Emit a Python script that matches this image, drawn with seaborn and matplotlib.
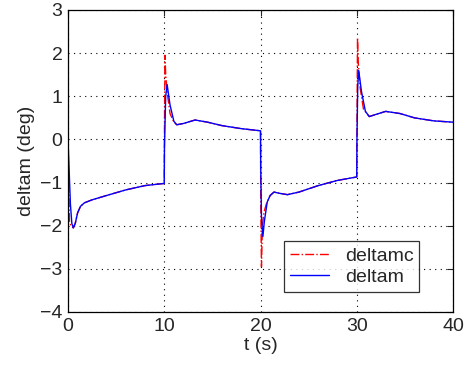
import matplotlib
matplotlib.use("Agg")
import matplotlib.pyplot as plt
import seaborn as sb
import numpy as np

# commanded elevator deflection (deltamc)
t_cmd = [0, 0.08, 0.15, 0.3, 0.55, 0.75, 1.0, 1.3, 1.7, 2.5, 4, 6, 8, 10,
         10.03, 10.08, 10.15, 10.3, 10.6, 11.0, 11.3, 12, 13.2, 14.5, 16, 18, 20,
         20.03, 20.1, 20.2, 20.35, 20.6, 21.0, 21.4, 22.0, 22.8, 24, 26, 28, 30,
         30.03, 30.08, 30.15, 30.35, 30.7, 31.3, 32, 33, 34.5, 36, 38, 40]
deltamc = [0.0, -1.0, -1.9, -2.0, -2.05, -1.95, -1.7, -1.55, -1.47, -1.4, -1.3, -1.17, -1.07, -1.02,
           0.5, 1.95, 1.5, 1.1, 0.6, 0.4, 0.34, 0.37, 0.45, 0.4, 0.32, 0.25, 0.2,
           -1.5, -2.95, -2.0, -1.7, -1.5, -1.3, -1.22, -1.25, -1.28, -1.22, -1.07, -0.95, -0.87,
           0.5, 2.35, 1.8, 1.2, 0.7, 0.53, 0.58, 0.65, 0.6, 0.5, 0.43, 0.4]

# actual elevator deflection (deltam)
t_act = [0, 0.1, 0.25, 0.4, 0.55, 0.75, 1.0, 1.3, 1.7, 2.5, 4, 6, 8, 10,
         10.02, 10.15, 10.3, 10.6, 11.0, 11.3, 12, 13.2, 14.5, 16, 18, 20,
         20.02, 20.1, 20.25, 20.4, 20.7, 21.0, 21.4, 22.0, 22.8, 24, 26, 28, 30,
         30.02, 30.1, 30.2, 30.5, 30.9, 31.3, 32, 33, 34.5, 36, 38, 40]
deltam = [0.0, -0.6, -1.5, -1.95, -2.05, -1.95, -1.7, -1.55, -1.47, -1.4, -1.3, -1.17, -1.07, -1.02,
          -0.2, 1.0, 1.27, 0.8, 0.42, 0.34, 0.37, 0.45, 0.4, 0.32, 0.25, 0.2,
          -0.6, -1.8, -2.25, -1.9, -1.45, -1.3, -1.22, -1.25, -1.28, -1.22, -1.07, -0.95, -0.87,
          0.0, 1.2, 1.6, 1.1, 0.65, 0.53, 0.58, 0.65, 0.6, 0.5, 0.43, 0.4]

sb.set_style("white")
plt.rcParams['font.family'] = ['Liberation Sans', 'DejaVu Sans']
fs = 14

fig = plt.figure(figsize=(4.66, 3.73), dpi=100)
ax = fig.add_axes([68/466, 61/373, 385/466, 302/373])

sb.lineplot(x=t_cmd, y=deltamc, ax=ax, color='red', linestyle='-.', lw=1.0,
            estimator=None, sort=False, label='deltamc')
sb.lineplot(x=t_act, y=deltam, ax=ax, color='blue', lw=1.0,
            estimator=None, sort=False, label='deltam')

ax.set_xlim(0, 40)
ax.set_ylim(-4, 3)
ax.set_xticks([0, 10, 20, 30, 40])
ax.set_yticks(range(-4, 4))
ax.grid(True, color='black', linestyle=(0, (1, 4)), linewidth=0.8)
ax.tick_params(direction='in', top=True, right=True, labelsize=fs, length=4, width=0.8, pad=4)
for s in ax.spines.values():
    s.set_color('black')
    s.set_linewidth(0.9)
ax.set_xlabel('t (s)', fontsize=fs, labelpad=2)
ax.set_ylabel('deltam (deg)', fontsize=fs, labelpad=4)

leg = ax.legend(loc='lower right', bbox_to_anchor=(0.912, 0.066), borderaxespad=0,
                fontsize=fs, frameon=True, fancybox=False, handlelength=2.0,
                handletextpad=0.8, borderpad=0.3, labelspacing=0.2)
leg.get_frame().set_edgecolor('black')
leg.get_frame().set_linewidth(0.9)

fig.savefig('out.png', dpi=100)
